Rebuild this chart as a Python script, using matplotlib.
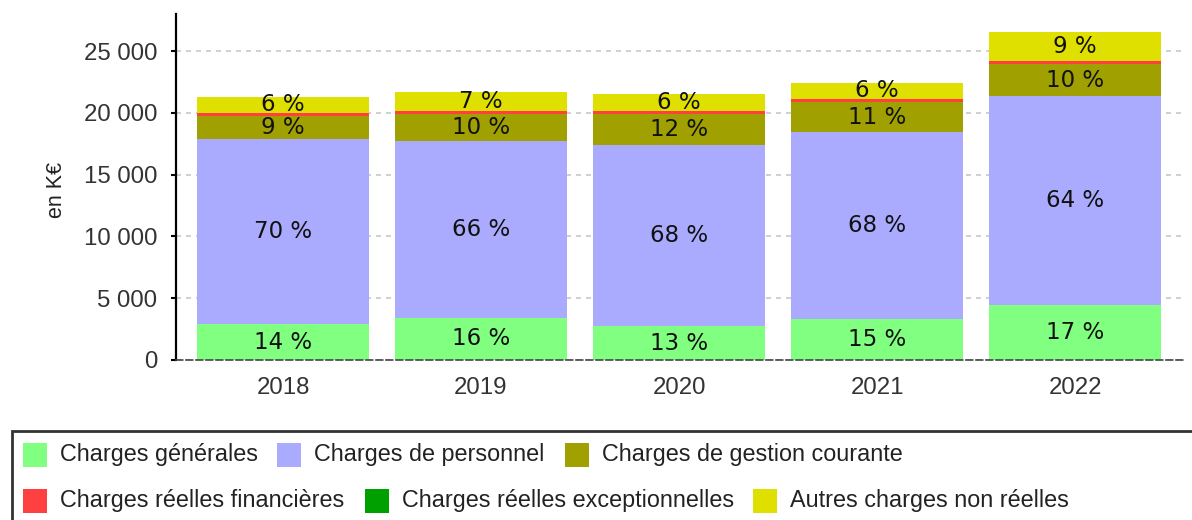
import numpy as np
import matplotlib.pyplot as plt
from matplotlib.patches import Rectangle

# Data (en K€)
years = ['2018', '2019', '2020', '2021', '2022']
generales = [2900, 3420, 2750, 3280, 4450]
personnel = [14950, 14300, 14645, 15167, 16909]
gestion = [1880, 2200, 2508, 2426, 2589]
financieres = [260, 260, 260, 260, 260]
exceptionnelles = [5, 5, 5, 5, 5]
autres = [1285, 1495, 1353, 1273, 2324]

series_names = ['Charges générales', 'Charges de personnel', 'Charges de gestion courante',
                'Charges réelles financières', 'Charges réelles exceptionnelles',
                'Autres charges non réelles']
series = [generales, personnel, gestion, financieres, exceptionnelles, autres]
colors = ['#80FF80', '#AAAAFF', '#A0A000', '#FF4040', '#00A000', '#E0E000']

W, H = 1192, 520
fig = plt.figure(figsize=(W / 100, H / 100), dpi=100)
ax = fig.add_axes([176 / W, 1 - 360 / H, (1184 - 176) / W, (360 - 14) / H])

x = np.arange(len(years))
totals = np.sum(series, axis=0)
bottom = np.zeros(len(years))
for vals, col in zip(series, colors):
    vals = np.array(vals, dtype=float)
    ax.bar(x, vals, bottom=bottom, width=0.87, color=col, zorder=2)
    for i in range(len(years)):
        pct = vals[i] / totals[i] * 100
        if pct >= 3:
            ax.text(x[i], bottom[i] + vals[i] / 2, f'{pct:.0f} %', ha='center', va='center',
                    fontsize=16.5, family='DejaVu Sans', color='#111111', zorder=3)
    bottom += vals

ax.set_xlim(-0.54, 4.55)
ax.set_ylim(0, 28000)
ax.set_xticks(x)
ax.set_xticklabels(years)
ax.set_yticks([0, 5000, 10000, 15000, 20000, 25000])
ax.set_yticklabels(['0', '5 000', '10 000', '15 000', '20 000', '25 000'])

for lab in ax.get_xticklabels() + ax.get_yticklabels():
    lab.set_family('Liberation Sans')
    lab.set_fontsize(17.3)
    lab.set_color('#333333')

ax.tick_params(axis='x', length=0, pad=12)
ax.tick_params(axis='y', length=3.6, width=1.5, pad=10, color='black')

ax.yaxis.grid(True, color='#c8c8c8', linestyle=(0, (3, 3)), linewidth=1.2, zorder=0)
ax.set_axisbelow(True)

for s in ['top', 'right']:
    ax.spines[s].set_visible(False)
ax.spines['left'].set_linewidth(1.6)
ax.spines['left'].set_color('black')
ax.spines['bottom'].set_color('#444444')
ax.spines['bottom'].set_linewidth(1.2)
ax.spines['bottom'].set_linestyle((0, (4, 2)))

fig.text(56 / W, 1 - 190 / H, 'en K€', rotation=90, ha='center', va='center',
         fontsize=15.5, family='Liberation Sans', color='#222222')

# Legend box (cut by the figure edge, as in the reference)
fig.add_artist(Rectangle((12 / W, -0.2), 1.2, 0.2 + (1 - 431 / H), transform=fig.transFigure,
                         fill=False, edgecolor='#333333', linewidth=2))

legend_pos = [(23, 455), (277, 455), (565, 455), (23, 501), (365, 501), (753, 501)]
for (lx, ly), name, col in zip(legend_pos, series_names, colors):
    fig.add_artist(Rectangle((lx / W, 1 - (ly + 12) / H), 24 / W, 24 / H,
                             transform=fig.transFigure, facecolor=col, edgecolor='none'))
    fig.text((lx + 37) / W, 1 - ly / H, name, ha='left', va='center',
             fontsize=16.8, family='Liberation Sans', color='#222222')

fig.savefig('out.png', dpi=100)
